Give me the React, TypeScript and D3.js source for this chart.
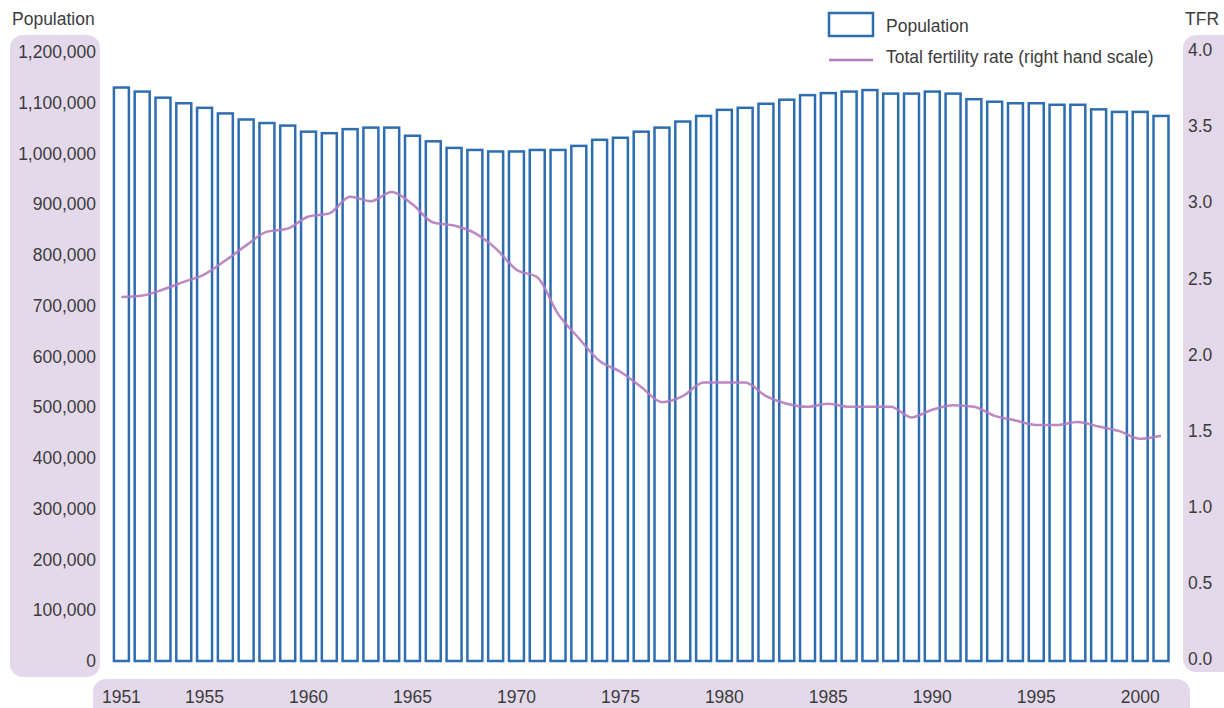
import { scaleBand, scaleLinear, line, curveMonotoneX } from "d3";

const width = 1224;
const height = 708;

const years = [
  "1951", "1952", "1953", "1954", "1955", "1956", "1957", "1958", "1959", "1960",
  "1961", "1962", "1963", "1964", "1965", "1966", "1967", "1968", "1969", "1970",
  "1971", "1972", "1973", "1974", "1975", "1976", "1977", "1978", "1979", "1980",
  "1981", "1982", "1983", "1984", "1985", "1986", "1987", "1988", "1989", "1990",
  "1991", "1992", "1993", "1994", "1995", "1996", "1997", "1998", "1999", "2000",
  "2001",
];

const population = [
  1130000, 1122000, 1110000, 1099000, 1090000, 1079000, 1067000, 1060000, 1055000, 1043000,
  1040000, 1048000, 1051000, 1051000, 1035000, 1024000, 1011000, 1007000, 1004000, 1004000,
  1007000, 1007000, 1015000, 1027000, 1031000, 1043000, 1051000, 1063000, 1074000, 1086000,
  1090000, 1098000, 1106000, 1115000, 1119000, 1122000, 1125000, 1118000, 1118000, 1122000,
  1118000, 1107000, 1102000, 1099000, 1099000, 1096000, 1096000, 1087000, 1082000, 1082000,
  1074000,
];

const tfr = [
  2.39, 2.4, 2.44, 2.49, 2.54, 2.63, 2.73, 2.82, 2.84, 2.92,
  2.94, 3.05, 3.02, 3.08, 3.0, 2.88, 2.86, 2.81, 2.71, 2.57,
  2.52, 2.28, 2.12, 1.97, 1.9, 1.8, 1.7, 1.74, 1.83, 1.83,
  1.83, 1.74, 1.69, 1.67, 1.69, 1.67, 1.67, 1.67, 1.6, 1.65,
  1.68, 1.67, 1.61, 1.58, 1.55, 1.55, 1.57, 1.54, 1.51, 1.46,
  1.48,
];

const popTicks = [0, 100000, 200000, 300000, 400000, 500000, 600000, 700000, 800000, 900000, 1000000, 1100000, 1200000];
const tfrTicks = [0, 0.5, 1, 1.5, 2, 2.5, 3, 3.5, 4];
const yearLabels = ["1951", "1955", "1960", "1965", "1970", "1975", "1980", "1985", "1990", "1995", "2000"];

const panel = "#e4d9ea";
const barBlue = "#2f6db1";
const lineColor = "#b47bc0";
const textColor = "#3c3c3c";
const font = "'Liberation Sans', Arial, sans-serif";

const App = () => {
  const x = scaleBand<string>()
    .domain(years)
    .range([111, 1171.4])
    .paddingInner(0.28)
    .paddingOuter(0.14);

  const yPop = scaleLinear().domain([0, 1200000]).range([661, 52]);
  const yTfr = scaleLinear().domain([0, 4]).range([661, 52]);

  const tfrLine = line<number>()
    .x((_, i) => (x(years[i]) ?? 0) + x.bandwidth() / 2)
    .y((d) => yTfr(d))
    .curve(curveMonotoneX);

  return (
    <svg
      width={width}
      height={height}
      style={{ position: "absolute", left: 0, top: 0, background: "#fff" }}
      fontFamily={font}
    >
      {/* axis panels */}
      <rect x={10} y={35} width={90} height={642} rx={13} fill={panel} />
      <rect x={1183} y={35} width={60} height={637} rx={13} fill={panel} />
      <rect x={93} y={679} width={1097} height={45} rx={13} fill={panel} />

      <text x={12} y={25} fontSize={17.5} fill={textColor}>Population</text>
      <text x={1185} y={25} fontSize={17.5} fill={textColor}>TFR</text>

      {popTicks.map((t) => (
        <text key={t} x={96} y={yPop(t)} dy="0.35em" textAnchor="end" fontSize={17.5} fill={textColor}>
          {t.toLocaleString("en-GB")}
        </text>
      ))}

      {tfrTicks.map((t) => (
        <text key={t} x={1188} y={yTfr(t) - 2} dy="0.35em" fontSize={17.5} fill={textColor}>
          {t.toFixed(1)}
        </text>
      ))}

      {yearLabels.map((yr) => (
        <text
          key={yr}
          x={(x(yr) ?? 0) + x.bandwidth() / 2}
          y={697}
          dy="0.35em"
          textAnchor="middle"
          fontSize={17.5}
          fill={textColor}
        >
          {yr}
        </text>
      ))}

      {/* bars */}
      {population.map((p, i) => (
        <rect
          key={years[i]}
          x={x(years[i])}
          y={yPop(p)}
          width={x.bandwidth()}
          height={yPop(0) - yPop(p)}
          fill="#fff"
          stroke={barBlue}
          strokeWidth={2.5}
        />
      ))}

      <path d={tfrLine(tfr) ?? ""} fill="none" stroke={lineColor} strokeWidth={2.5} strokeOpacity={0.9} />

      {/* legend */}
      <rect x={829} y={13} width={44} height={23} fill="#fff" stroke={barBlue} strokeWidth={2.5} />
      <text x={886} y={26} dy="0.35em" fontSize={17.5} fill={textColor}>Population</text>
      <line x1={829} x2={873} y1={60} y2={60} stroke={lineColor} strokeWidth={2.5} />
      <text x={886} y={57} dy="0.35em" fontSize={17.5} fill={textColor}>Total fertility rate (right hand scale)</text>
    </svg>
  );
};

export default App;
